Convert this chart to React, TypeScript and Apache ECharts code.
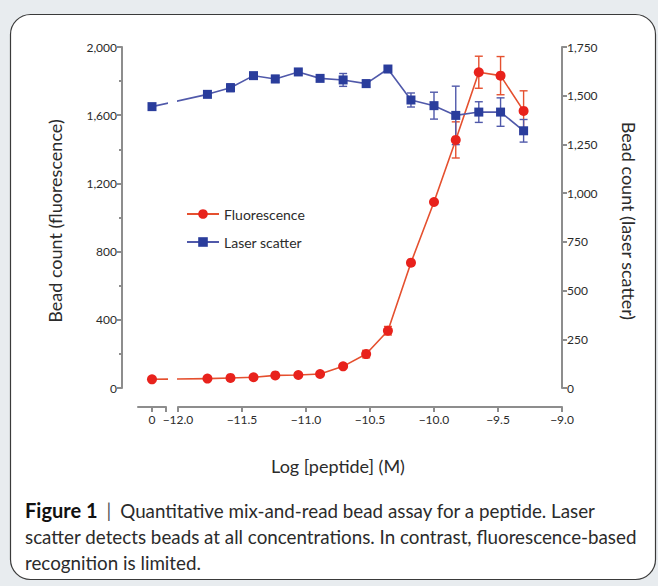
import React, { useEffect, useRef } from 'react';
import * as echarts from 'echarts';

// ---------- data ----------
const logConc = [-11.77, -11.59, -11.41, -11.24, -11.06, -10.89, -10.71, -10.53, -10.36, -10.18, -10.0, -9.83, -9.65, -9.48, -9.3];
const fluorescence = [55, 59, 63, 74, 76, 82, 127, 199, 336, 735, 1091, 1455, 1852, 1832, 1625];
const fluorescenceErr = [5, 5, 5, 6, 5, 6, 10, 22, 25, 10, 12, 106, 94, 112, 118];
const laserScatter = [1507, 1541, 1603, 1586, 1622, 1589, 1581, 1562, 1637, 1478, 1449, 1399, 1416, 1416, 1320];
const laserScatterErr = [8, 20, 15, 18, 10, 12, 33, 18, 10, 36, 69, 150, 53, 73, 58];
const zeroFluorescence = 51;
const zeroFluorescenceErr = 5;
const zeroLaser = 1444;
const zeroLaserErr = 8;

const leftTickLabels = ['0', '400', '800', '1,200', '1,600', '2,000'];
const rightTickLabels = ['0', '250', '500', '750', '1,000', '1,250', '1,500', '1,750'];
const xTickLabels = ['−12.0', '−11.5', '−11.0', '−10.5', '−10.0', '−9.5', '−9.0'];

const seriesNames = ['Fluorescence', 'Laser scatter'];
const captionLines = [
  'Quantitative mix-and-read bead assay for a peptide. Laser',
  'scatter detects beads at all concentrations. In contrast, fluorescence-based',
  'recognition is limited.',
];

// ---------- layout ----------
const W = 658;
const H = 586;
const PLOT_TOP = 47;
const PLOT_BOTTOM = 388;
const MAIN_LEFT = 178;
const MAIN_RIGHT = 562;
const LEFT_AXIS_X = 122;
const ZERO_X = 152;
const STUB_HALF = 14;
const X_OFFSET = 19;
const X_MIN = -12;
const X_MAX = -9;
const LEFT_MAX = 2000;
const RIGHT_MAX = 1750;

const RED_LINE = '#e5502f';
const RED_MARK = '#e8221c';
const BLUE_LINE = '#5059aa';
const BLUE_MARK = '#2a3d9c';
const AXIS_GRAY = '#8d8d8d';
const TEXT = '#2b2b2b';
const FONT = 'Lato';
const CAP_SIZE = 18.8;
const TITLE_SIZE = 18;

const xUnitPx = (MAIN_RIGHT - MAIN_LEFT) / (X_MAX - X_MIN);
const zeroPos = X_MIN - (MAIN_LEFT - ZERO_X) / xUnitPx;
const stubHalfUnits = STUB_HALF / xUnitPx;

const errRender = (color: string) => (params: any, api: any) => {
  const x = api.value(0);
  const lo = api.coord([x, api.value(1)]);
  const hi = api.coord([x, api.value(2)]);
  const hw = 4;
  const style = { stroke: color, lineWidth: 1.4 };
  return {
    type: 'group',
    children: [
      { type: 'line', shape: { x1: lo[0], y1: lo[1], x2: hi[0], y2: hi[1] }, style },
      { type: 'line', shape: { x1: lo[0] - hw, y1: lo[1], x2: lo[0] + hw, y2: lo[1] }, style },
      { type: 'line', shape: { x1: hi[0] - hw, y1: hi[1], x2: hi[0] + hw, y2: hi[1] }, style },
    ],
  };
};

export default function App() {
  const ref = useRef<HTMLDivElement>(null);
  useEffect(() => {
    if (!ref.current) return;
    const chart = echarts.init(ref.current, undefined, { renderer: 'svg', width: W, height: H });

    const axisLineStyle = { color: AXIS_GRAY, width: 2 };
    const labelStyle = { color: TEXT, fontSize: 12, fontFamily: FONT };

    const option: any = {
      animation: false,
      backgroundColor: '#e8ecef',
      textStyle: { fontFamily: FONT },
      grid: [
        { left: MAIN_LEFT, right: W - MAIN_RIGHT, top: PLOT_TOP, bottom: H - PLOT_BOTTOM },
        { left: ZERO_X - STUB_HALF, width: STUB_HALF * 2, top: PLOT_TOP, bottom: H - PLOT_BOTTOM },
      ],
      xAxis: [
        {
          type: 'value', gridIndex: 0, min: X_MIN, max: X_MAX, interval: 0.5,
          position: 'bottom', offset: X_OFFSET,
          axisLine: { show: true, onZero: false, lineStyle: axisLineStyle },
          axisTick: { show: true, length: 5, lineStyle: axisLineStyle },
          axisLabel: {
            ...labelStyle, margin: 6,
            formatter: (v: number) => xTickLabels[Math.round((v - X_MIN) / 0.5)] ?? '',
          },
          splitLine: { show: false },
        },
        {
          type: 'value', gridIndex: 1, min: -stubHalfUnits, max: stubHalfUnits,
          position: 'bottom', offset: X_OFFSET,
          axisLine: { show: true, onZero: false, lineStyle: axisLineStyle },
          axisTick: { show: true, length: 5, lineStyle: axisLineStyle, customValues: [0, stubHalfUnits] },
          axisLabel: { ...labelStyle, margin: 6, customValues: [0], formatter: () => '0' },
          splitLine: { show: false },
        },
      ],
      yAxis: [
        {
          type: 'value', gridIndex: 0, position: 'left', offset: MAIN_LEFT - LEFT_AXIS_X,
          min: 0, max: LEFT_MAX, interval: 400,
          axisLine: { show: true, onZero: false, lineStyle: axisLineStyle },
          axisTick: { show: true, length: 5, lineStyle: axisLineStyle },
          minorTick: { show: true, splitNumber: 2, length: 3, lineStyle: axisLineStyle },
          axisLabel: { ...labelStyle, margin: 5, formatter: (v: number) => leftTickLabels[Math.round(v / 400)] ?? '' },
          splitLine: { show: false },
        },
        {
          type: 'value', gridIndex: 0, position: 'right', offset: 0,
          min: 0, max: RIGHT_MAX, interval: 250,
          axisLine: { show: true, onZero: false, lineStyle: axisLineStyle },
          axisTick: { show: true, length: 5, lineStyle: axisLineStyle },
          axisLabel: { ...labelStyle, margin: 5, formatter: (v: number) => rightTickLabels[Math.round(v / 250)] ?? '' },
          splitLine: { show: false },
        },
        { type: 'value', gridIndex: 1, min: 0, max: LEFT_MAX, show: false },
        { type: 'value', gridIndex: 1, min: 0, max: RIGHT_MAX, show: false },
      ],
      legend: {
        data: seriesNames,
        orient: 'vertical',
        left: 181,
        top: 202,
        itemWidth: 32,
        itemHeight: 12,
        itemGap: 14,
        textStyle: { fontSize: 14, color: TEXT, fontFamily: FONT },
      },
      series: [
        {
          type: 'custom', name: 'fluorErr', xAxisIndex: 0, yAxisIndex: 0, z: 1,
          renderItem: errRender(RED_LINE), encode: { x: 0, y: [1, 2] },
          data: logConc.map((x, i) => [x, fluorescence[i] - fluorescenceErr[i], fluorescence[i] + fluorescenceErr[i]]),
        },
        {
          type: 'custom', name: 'laserErr', xAxisIndex: 0, yAxisIndex: 1, z: 1,
          renderItem: errRender(BLUE_LINE), encode: { x: 0, y: [1, 2] },
          data: logConc.map((x, i) => [x, laserScatter[i] - laserScatterErr[i], laserScatter[i] + laserScatterErr[i]]),
        },
        {
          type: 'custom', name: 'fluorErr0', xAxisIndex: 1, yAxisIndex: 2, z: 1,
          renderItem: errRender(RED_LINE), encode: { x: 0, y: [1, 2] },
          data: [[0, zeroFluorescence - zeroFluorescenceErr, zeroFluorescence + zeroFluorescenceErr]],
        },
        {
          type: 'custom', name: 'laserErr0', xAxisIndex: 1, yAxisIndex: 3, z: 1,
          renderItem: errRender(BLUE_LINE), encode: { x: 0, y: [1, 2] },
          data: [[0, zeroLaser - zeroLaserErr, zeroLaser + zeroLaserErr]],
        },
        {
          type: 'line', name: 'fluorBridge', xAxisIndex: 0, yAxisIndex: 0, z: 2, symbol: 'none', clip: true,
          lineStyle: { color: RED_LINE, width: 1.6 }, silent: true,
          data: [[zeroPos, zeroFluorescence], [logConc[0], fluorescence[0]]],
        },
        {
          type: 'line', name: 'laserBridge', xAxisIndex: 0, yAxisIndex: 1, z: 2, symbol: 'none', clip: true,
          lineStyle: { color: BLUE_LINE, width: 1.6 }, silent: true,
          data: [[zeroPos, zeroLaser], [logConc[0], laserScatter[0]]],
        },
        {
          type: 'line', name: 'fluorZero', xAxisIndex: 1, yAxisIndex: 2, z: 3, clip: true,
          symbol: 'circle', symbolSize: 10, itemStyle: { color: RED_MARK },
          lineStyle: { color: RED_LINE, width: 1.6 },
          data: [
            { value: [0, zeroFluorescence] },
            { value: [logConc[0] - zeroPos, fluorescence[0]], symbol: 'none' },
          ],
        },
        {
          type: 'line', name: 'laserZero', xAxisIndex: 1, yAxisIndex: 3, z: 3, clip: true,
          symbol: 'rect', symbolSize: 9, itemStyle: { color: BLUE_MARK },
          lineStyle: { color: BLUE_LINE, width: 1.6 },
          data: [
            { value: [0, zeroLaser] },
            { value: [logConc[0] - zeroPos, laserScatter[0]], symbol: 'none' },
          ],
        },
        {
          type: 'line', name: seriesNames[0], xAxisIndex: 0, yAxisIndex: 0, z: 3,
          symbol: 'circle', symbolSize: 10, itemStyle: { color: RED_MARK },
          lineStyle: { color: RED_LINE, width: 1.6 },
          data: logConc.map((x, i) => [x, fluorescence[i]]),
        },
        {
          type: 'line', name: seriesNames[1], xAxisIndex: 0, yAxisIndex: 1, z: 3,
          symbol: 'rect', symbolSize: 9, itemStyle: { color: BLUE_MARK },
          lineStyle: { color: BLUE_LINE, width: 1.6 },
          data: logConc.map((x, i) => [x, laserScatter[i]]),
        },
      ],
      graphic: [
        {
          type: 'rect', z: -10, silent: true,
          shape: { x: 10.5, y: 14.5, width: 645, height: 565, r: 20 },
          style: { fill: '#ffffff', stroke: '#3a3a3a', lineWidth: 1.2 },
        },
        {
          type: 'text', x: 55, y: 221, rotation: Math.PI / 2,
          style: { text: 'Bead count (fluorescence)', fill: TEXT, font: `${TITLE_SIZE}px ${FONT}`, textAlign: 'center', textVerticalAlign: 'middle' },
        },
        {
          type: 'text', x: 629, y: 221, rotation: -Math.PI / 2,
          style: { text: 'Bead count (laser scatter)', fill: TEXT, font: `${TITLE_SIZE}px ${FONT}`, textAlign: 'center', textVerticalAlign: 'middle' },
        },
        {
          type: 'text', x: 338, y: 466,
          style: { text: 'Log [peptide] (M)', fill: TEXT, font: `${TITLE_SIZE}px ${FONT}`, textAlign: 'center', textVerticalAlign: 'middle' },
        },
        {
          type: 'text', x: 25, y: 510,
          style: {
            text: '{b|Figure 1}{s||}' + captionLines[0],
            fill: TEXT, font: `${CAP_SIZE}px ${FONT}`, textVerticalAlign: 'middle',
            rich: {
              b: { fontWeight: 'bold', fontSize: 20, fontFamily: FONT, fill: '#111' },
              s: { fontSize: CAP_SIZE, fontFamily: FONT, fill: '#555', padding: [0, 9, 0, 9] },
            },
          },
        },
        {
          type: 'text', x: 25, y: 536,
          style: { text: captionLines[1], fill: TEXT, font: `${CAP_SIZE}px ${FONT}`, textVerticalAlign: 'middle' },
        },
        {
          type: 'text', x: 25, y: 562,
          style: { text: captionLines[2], fill: TEXT, font: `${CAP_SIZE}px ${FONT}`, textVerticalAlign: 'middle' },
        },
      ],
    };

    chart.setOption(option);
    return () => chart.dispose();
  }, []);

  return <div ref={ref} style={{ position: 'absolute', left: 0, top: 0, width: W, height: H }} />;
}
